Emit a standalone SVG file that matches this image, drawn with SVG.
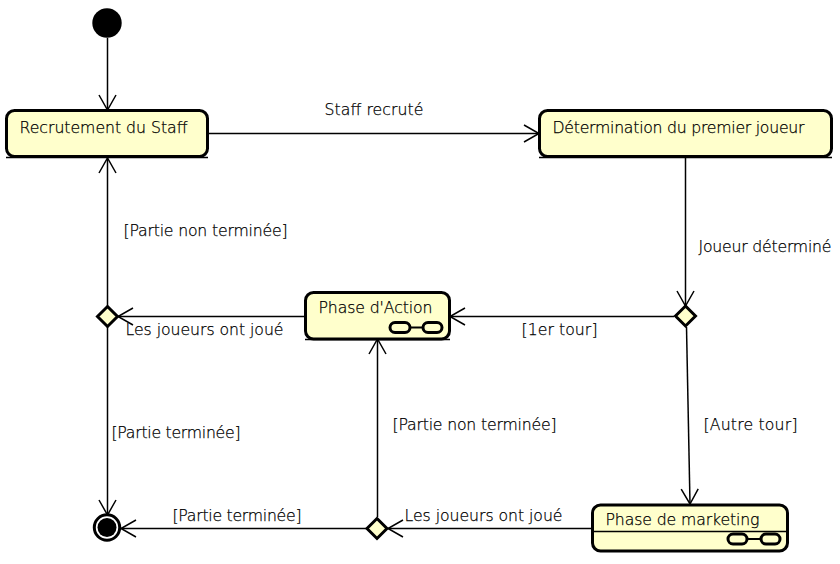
<svg xmlns="http://www.w3.org/2000/svg" width="840" height="564" viewBox="0 0 840 564">
<style>
text{font-family:"DejaVu Sans ExtraLight","DejaVu Sans",sans-serif;font-weight:200;font-size:15.7px;fill:#000;stroke:#000;stroke-width:.25}
.s{fill:#ffffcc;stroke:#000;stroke-width:3}
.d{fill:#ffffcc;stroke:#000;stroke-width:3}
.l{stroke:#000;stroke-width:1.5;fill:none}
.k{stroke:#000;stroke-width:2;fill:none}
.c{fill:none;stroke:#000;stroke-width:1.5}
.g{fill:#ffffcc;stroke:#000;stroke-width:3}
</style>
<defs>
<marker id="a" markerUnits="userSpaceOnUse" markerWidth="20" markerHeight="22" refX="16" refY="10" orient="auto"><path d="M1 1.500L16 10L1 18.500" fill="none" stroke="#000" stroke-width="1.500"/></marker>
</defs>
<g id="connectors">
<path class="c" marker-end="url(#a)" d="M107.500 38V110"/>
<path class="c" marker-end="url(#a)" d="M208 133.500H539"/>
<path class="c" marker-end="url(#a)" d="M685.500 158V306"/>
<path class="c" marker-end="url(#a)" d="M674 316.500H450"/>
<path class="c" marker-end="url(#a)" d="M686.500 327L690 504"/>
<path class="c" marker-end="url(#a)" d="M592 528.500H388"/>
<path class="c" marker-end="url(#a)" d="M377.500 517V339"/>
<path class="c" marker-end="url(#a)" d="M366 528.500H121"/>
<path class="c" marker-end="url(#a)" d="M305 316.500H118"/>
<path class="c" marker-end="url(#a)" d="M107.500 306V158"/>
<path class="c" marker-end="url(#a)" d="M107.500 327V515"/>
</g>
<g id="labels">
<text x="324.500" y="115" textLength="99">Staff recruté</text>
<text x="698.500" y="252" textLength="133">Joueur déterminé</text>
<text x="521.500" y="335" textLength="76">[1er tour]</text>
<text x="703.500" y="430" textLength="94">[Autre tour]</text>
<text x="123.500" y="236" textLength="164">[Partie non terminée]</text>
<text x="125.500" y="335" textLength="158">Les joueurs ont joué</text>
<text x="111.500" y="438" textLength="129">[Partie terminée]</text>
<text x="392.500" y="430" textLength="164">[Partie non terminée]</text>
<text x="172.500" y="521" textLength="129">[Partie terminée]</text>
<text x="404.500" y="521" textLength="158">Les joueurs ont joué</text>
</g>
<g id="start"><circle cx="107" cy="23" r="14.700" fill="#000"/></g>
<g id="recrutement">
<rect class="s" x="6.500" y="110.500" width="201" height="46" rx="8"/>
<path class="l" d="M6 157.500H208"/>
<text x="19.500" y="133" textLength="168">Recrutement du Staff</text>
</g>
<g id="determination">
<rect class="s" x="539.500" y="110.500" width="292" height="46" rx="8"/>
<path class="l" d="M539 157.500H832"/>
<text x="552.500" y="133" textLength="252">Détermination du premier joueur</text>
</g>
<g id="action">
<rect class="s" x="305.500" y="292.500" width="144" height="46.500" rx="8"/>
<path class="l" d="M305 339.500H450"/>
<text x="318.500" y="313" textLength="114">Phase d'Action</text>
<g><path class="k" d="M408 327.500H424"/><rect class="g" x="390" y="322.500" width="20" height="10" rx="5"/><rect class="g" x="423" y="322.500" width="19" height="10" rx="5"/></g>
</g>
<g id="marketing">
<rect class="s" x="592.500" y="505" width="195" height="46" rx="8"/>
<path class="l" d="M592 531.500H788"/>
<text x="605.500" y="525" textLength="154">Phase de marketing</text>
<g><path class="k" d="M746 539H762"/><rect class="g" x="728" y="534" width="19" height="10" rx="5"/><rect class="g" x="761" y="534" width="19" height="10" rx="5"/></g>
</g>
<g id="diamond1"><path class="d" d="M107.500 306.500L117.500 316.500L107.500 326.500L97.500 316.500Z"/></g>
<g id="diamond2"><path class="d" d="M685.500 306L695.500 316L685.500 326L675.500 316Z"/></g>
<g id="diamond3"><path class="d" d="M377 518.500L387 528.500L377 538.500L367 528.500Z"/></g>
<g id="end"><circle cx="107" cy="527.500" r="12.700" fill="#fff" stroke="#000" stroke-width="3"/><circle cx="107" cy="527.500" r="9.500" fill="#000"/></g>
</svg>
